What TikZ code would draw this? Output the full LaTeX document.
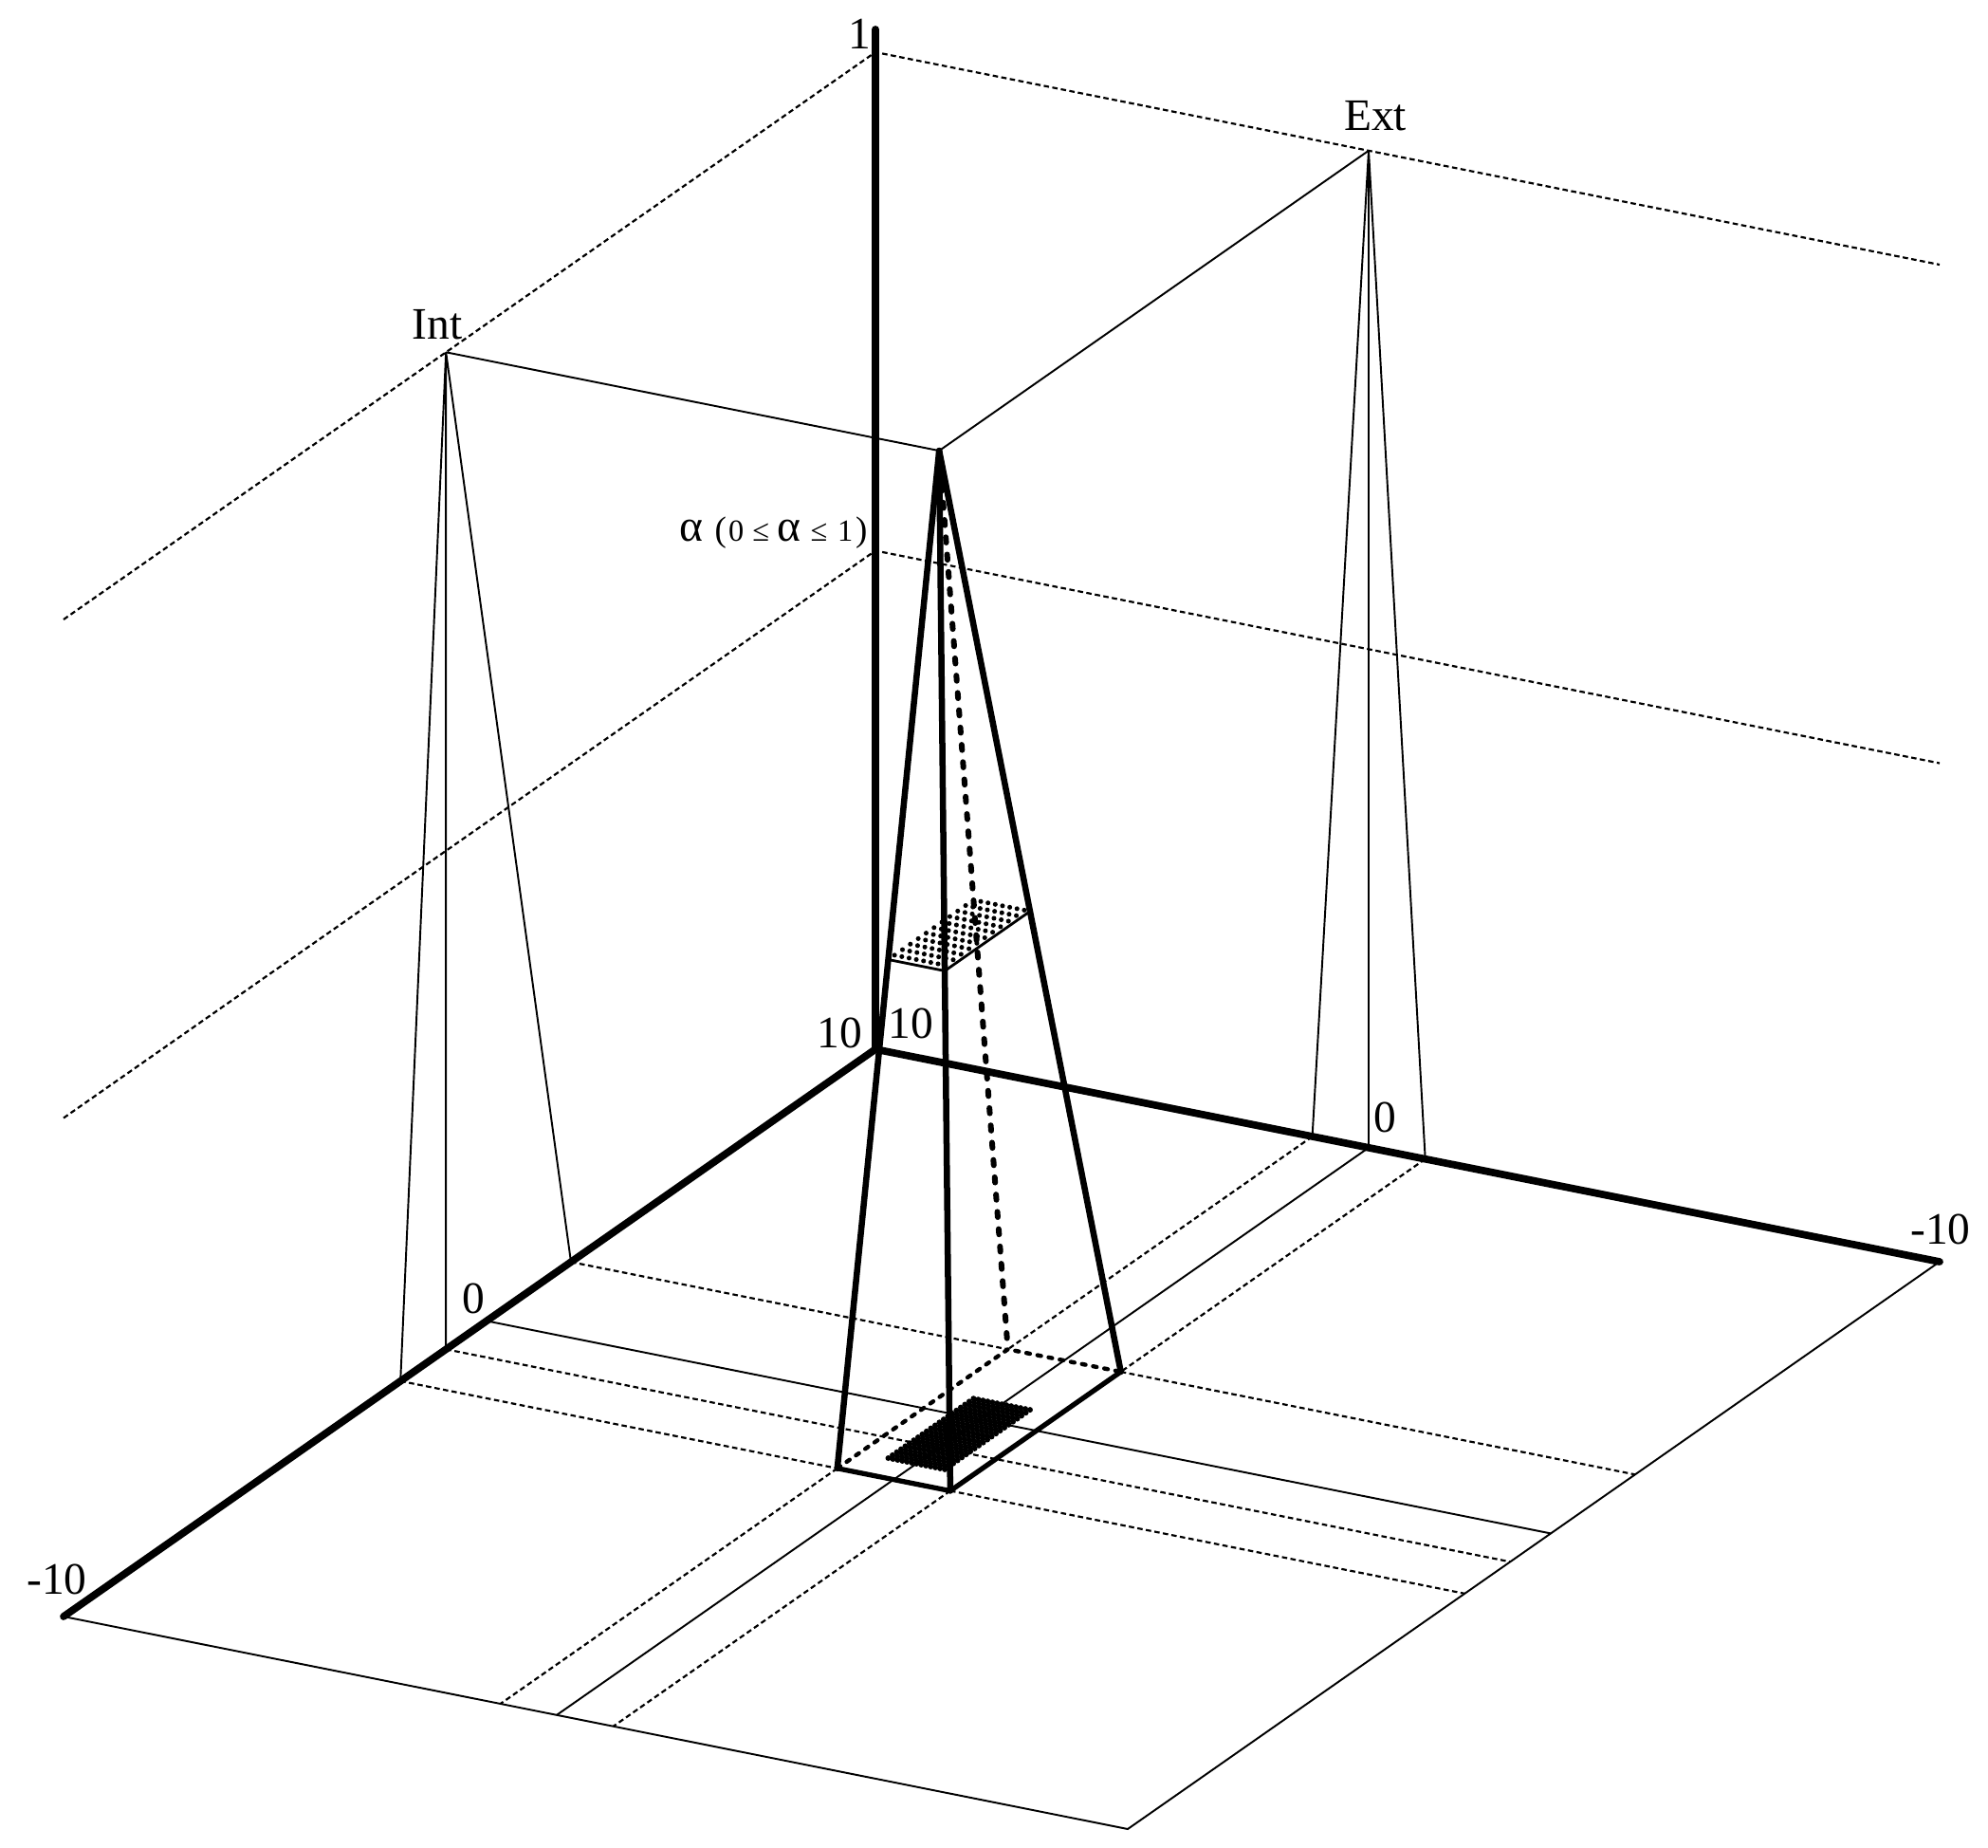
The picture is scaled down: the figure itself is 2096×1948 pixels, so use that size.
\documentclass[tikz,border=0pt]{standalone}
\usepackage{fontspec}
\setmainfont{Liberation Serif}
\begin{document}
\begin{tikzpicture}[x=0.01cm,y=-0.01cm,
  axisline/.style={line width=2.2pt,line cap=round},
  pyrline/.style={line width=1.85pt,line cap=round,line join=round},
  pyrbase/.style={line width=1.5pt,line cap=round,line join=round},
  fine/.style={line width=0.55pt},
  dsh/.style={line width=0.62pt,dash pattern=on 1.6pt off 1pt},
  hidthick/.style={line width=1.7pt,line cap=round,dash pattern=on 1.6pt off 3.6pt},
  hidthin/.style={line width=1.25pt,line cap=round,dash pattern=on 1.1pt off 2.3pt},
  lbl/.style={inner sep=0pt,font=\fontsize{13.5}{16}\selectfont}]
\useasboundingbox (0,0) rectangle (2096,1948);
% ---- coordinates
\coordinate (O) at (923,1106);
\coordinate (Vt) at (923,31);
\coordinate (V1) at (923,55);
\coordinate (Aa) at (923,580.5);
\coordinate (L) at (67,1704);
\coordinate (R) at (2045,1330);
\coordinate (F) at (1189,1928);
\coordinate (V1L) at (67,653);
\coordinate (V1R) at (2045,279);
\coordinate (AL) at (67,1178.5);
\coordinate (AR) at (2045,804.5);
\coordinate (IL) at (422.2,1455.8);
\coordinate (IB) at (470.2,1422.3);
\coordinate (IR) at (602,1330.3);
\coordinate (Ipk) at (470.2,371.3);
\coordinate (EL) at (1383.6,1198);
\coordinate (EB) at (1443,1209.8);
\coordinate (ER) at (1502.7,1221.7);
\coordinate (Epk) at (1443,158.8);
\coordinate (P) at (990.2,475.1);
\coordinate (B1) at (882.8,1547.8);
\coordinate (B2) at (1001.9,1571.5);
\coordinate (B3) at (1181.7,1446);
\coordinate (B4) at (1062.6,1422.3);
\coordinate (Ca) at (513,1392.4);
\coordinate (Fa1) at (1724,1554.3);
\coordinate (Fa2) at (1635,1616.4);
\coordinate (Fa3) at (1592.2,1646.3);
\coordinate (Fa4) at (1544.2,1679.8);
\coordinate (Fs1) at (527.6,1796);
\coordinate (Fs2) at (587,1807.8);
\coordinate (Fs3) at (646.7,1819.7);
\coordinate (CF) at (996.1,1023.4);
\coordinate (CL) at (936.5,1011.5);
\coordinate (CR) at (1086,960.6);
\coordinate (CB) at (1026.4,948.7);
% ---- floor
\draw[fine] (L) -- (F) -- (R);
\draw[dsh] (IR) -- (B4);
\draw[dsh] (B3) -- (Fa1);
\draw[fine] (Ca) -- (Fa2);
\draw[dsh] (IB) -- (Fa3);
\draw[dsh] (IL) -- (B1);
\draw[dsh] (B2) -- (Fa4);
\draw[dsh] (EL) -- (B4);
\draw[dsh] (B1) -- (Fs1);
\draw[fine] (EB) -- (Fs2);
\draw[dsh] (ER) -- (B3);
\draw[dsh] (B2) -- (Fs3);
% ---- upper dashed levels
\draw[dsh] (V1L) -- (V1) -- (V1R);
\draw[dsh] (AL) -- (Aa) -- (AR);
% ---- Int and Ext
\draw[fine] (IL) -- (Ipk) -- (IR) (Ipk) -- (IB);
\draw[fine] (EL) -- (Epk) -- (ER) (Epk) -- (EB);
\draw[fine] (Ipk) -- (P) -- (Epk);
% ---- projected cut (blob) on the floor
\foreach \i in {0,...,12}{\foreach \j in {0,...,20}{
  \fill ({996.1-59.6*\i/12+89.9*\j/20},{1548.9-11.9*\i/12-62.8*\j/20}) circle (0.85pt);
}}
% ---- alpha cut
\foreach \i in {1,...,8}{\foreach \j in {1,...,11}{
  \fill ({996.1-59.6*(\i-0.2)/7.8+89.9*(\j-0.2)/10.8},{1023.4-11.9*(\i-0.2)/7.8-62.8*(\j-0.2)/10.8}) circle (0.72pt);
}}
\draw[line width=0.8pt] (CL) -- (CF) -- (CR);
% ---- pyramid
\draw[hidthick] (P) -- (B4);
\draw[hidthin] (B1) -- (B4) -- (B3);
\draw[pyrbase] (B1) -- (B2) -- (B3);
\draw[pyrline] (B1) -- (P) -- (B3);
\draw[pyrline] (P) -- (B2);
% ---- axes
\draw[axisline] (O) -- (L);
\draw[axisline] (O) -- (R);
\draw[axisline] (O) -- (Vt);
% ---- labels
\node[lbl] (l1) at (906,36) {1};
\node[lbl] (l10a) at (885,1089) {10};
\node[lbl] (l10b) at (960,1079) {10};
\node[lbl] (l0a) at (499,1369) {0};
\node[lbl] (l0b) at (1460,1178) {0};
\node[lbl] (lm10a) at (60,1665) {-10};
\node[lbl] (lm10b) at (2046,1296) {-10};
\node[lbl] (lint) at (461,342) {Int};
\node[lbl] (lext) at (1450,122) {Ext};
\node[lbl,anchor=base east] (lalpha) at (915,570) {α {\fontsize{10.5}{12}\selectfont(}\hspace{0.6pt}{\fontsize{9.2}{11}\selectfont 0\hspace{2.6pt}≤}\hspace{2.3pt}α\hspace{3pt}{\fontsize{9.2}{11}\selectfont ≤\hspace{3pt}1}\hspace{0.8pt}{\fontsize{10.5}{12}\selectfont)}};
\end{tikzpicture}
\end{document}
